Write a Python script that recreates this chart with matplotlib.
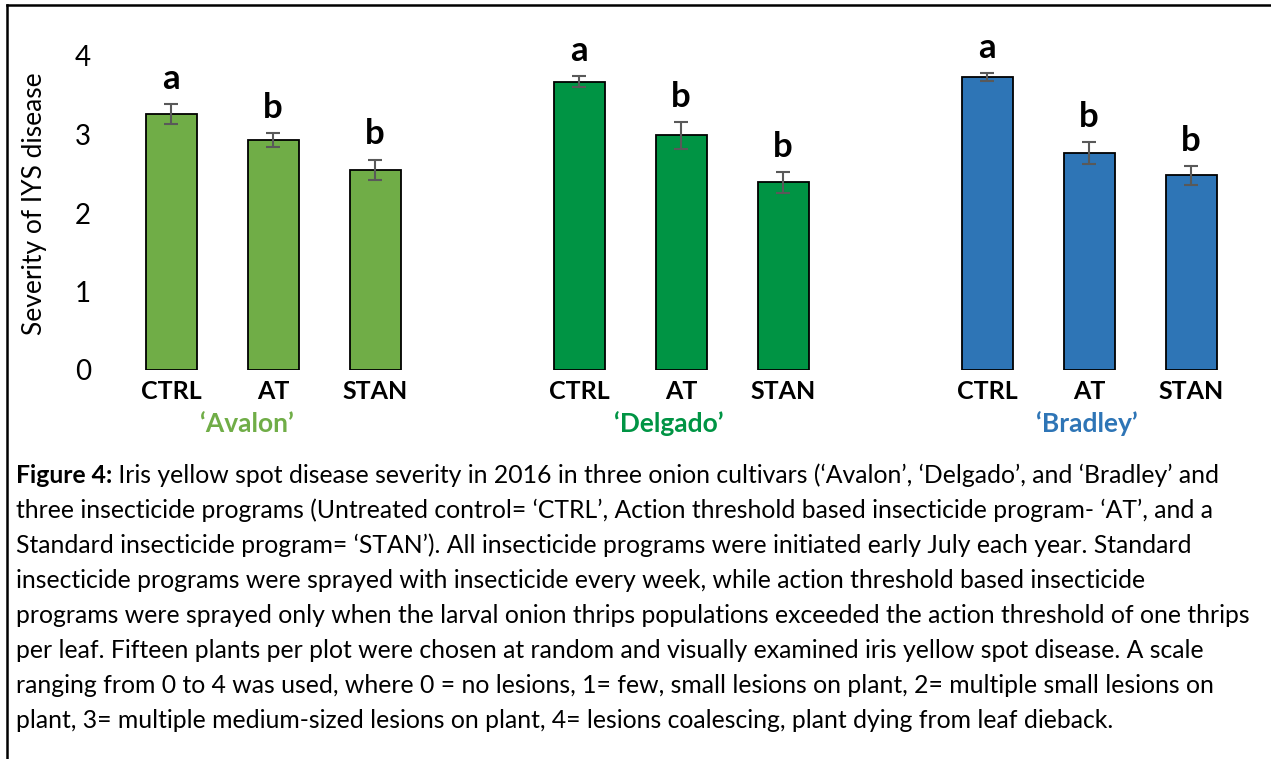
import matplotlib
matplotlib.use('Agg')
import matplotlib.pyplot as plt
from matplotlib.lines import Line2D

plt.rcParams['font.family'] = ['Lato', 'DejaVu Sans']

# data
cultivars = ['‘Avalon’', '‘Delgado’', '‘Bradley’']
programs = ['CTRL', 'AT', 'STAN']
avalon = [3.26, 2.93, 2.55]
avalon_err = [0.13, 0.09, 0.13]
delgado = [3.67, 2.99, 2.39]
delgado_err = [0.07, 0.17, 0.13]
bradley = [3.73, 2.76, 2.48]
bradley_err = [0.05, 0.14, 0.12]
letters = [['a', 'b', 'b'], ['a', 'b', 'b'], ['a', 'b', 'b']]
colors = ['#70AD47', '#009444', '#2E75B6']

caption = [
    ' Iris yellow spot disease severity in 2016 in three onion cultivars (‘Avalon’, ‘Delgado’, and ‘Bradley’ and',
    'three insecticide programs (Untreated control= ‘CTRL’, Action threshold based insecticide program- ‘AT’, and a',
    'Standard insecticide program= ‘STAN’). All insecticide programs were initiated early July each year. Standard',
    'insecticide programs were sprayed with insecticide every week, while action threshold based insecticide',
    'programs were sprayed only when the larval onion thrips populations exceeded the action threshold of one thrips',
    'per leaf. Fifteen plants per plot were chosen at random and visually examined iris yellow spot disease. A scale',
    'ranging from 0 to 4 was used, where 0 = no lesions, 1= few, small lesions on plant, 2= multiple small lesions on',
    'plant, 3= multiple medium-sized lesions on plant, 4= lesions coalescing, plant dying from leaf dieback.',
]

W, H = 1271, 759
fig = plt.figure(figsize=(W / 100, H / 100), dpi=100)
ax = fig.add_axes([120 / W, (H - 370) / H, 1122 / W, 314 / H])

series = [(avalon, avalon_err), (delgado, delgado_err), (bradley, bradley_err)]
ticks = []
for g, (vals, errs) in enumerate(series):
    x = [4 * g + i for i in range(len(vals))]
    ticks += x
    ax.bar(x, vals, width=0.5, color=colors[g], edgecolor='black', linewidth=1.3,
           yerr=errs, error_kw=dict(ecolor='#595959', elinewidth=1.5, capsize=5, capthick=1.5))
    for xi, v, e, l in zip(x, vals, errs, letters[g]):
        ax.annotate(l, (xi, v + e), xytext=(0, 11), textcoords='offset points',
                    ha='center', va='baseline', fontsize=25, fontweight='bold')

label_x = [0.74, 4.88, 8.98]
for g, name in enumerate(cultivars):
    ax.text(label_x[g], -0.197, name, transform=ax.get_xaxis_transform(), ha='center',
            va='baseline', fontsize=19, fontweight='bold', color=colors[g])

ax.set_xlim(-0.5, 10.5)
ax.set_ylim(0, 4)
ax.set_yticks([0, 1, 2, 3, 4])
ax.set_xticks(ticks)
ax.set_xticklabels(programs * 3, fontsize=18, fontweight='bold')
ax.tick_params(axis='y', length=0, pad=21, labelsize=20)
ax.tick_params(axis='x', length=0, pad=7)
for s in ax.spines.values():
    s.set_visible(False)
ax.set_ylabel('Severity of IYS disease', fontsize=19)
ax.yaxis.set_label_coords(-0.0765, 0.53)
ax.yaxis.label.set_va('center')

# frame lines
fig.add_artist(Line2D([7 / W, 1], [1 - 5 / H, 1 - 5 / H], color='black', lw=1.8, transform=fig.transFigure))
fig.add_artist(Line2D([7 / W, 7 / W], [0, 1 - 5 / H], color='black', lw=1.8, transform=fig.transFigure))

# caption
renderer = fig.canvas.get_renderer()
size = 15
probe = fig.text(0, 0, caption[4], fontsize=size)
w = probe.get_window_extent(renderer).width
probe.remove()
size = size * 1234 / w

x0 = 16 / W
for i, line in enumerate(caption):
    y = 1 - (483 + 35 * i) / H
    if i == 0:
        t = fig.text(x0, y, 'Figure 4:', fontsize=size, fontweight='bold', va='baseline')
        bw = t.get_window_extent(renderer).width
        fig.text(x0 + bw / W, y, line, fontsize=size, va='baseline')
    else:
        fig.text(x0, y, line, fontsize=size, va='baseline')

fig.savefig('out.png', dpi=100)
